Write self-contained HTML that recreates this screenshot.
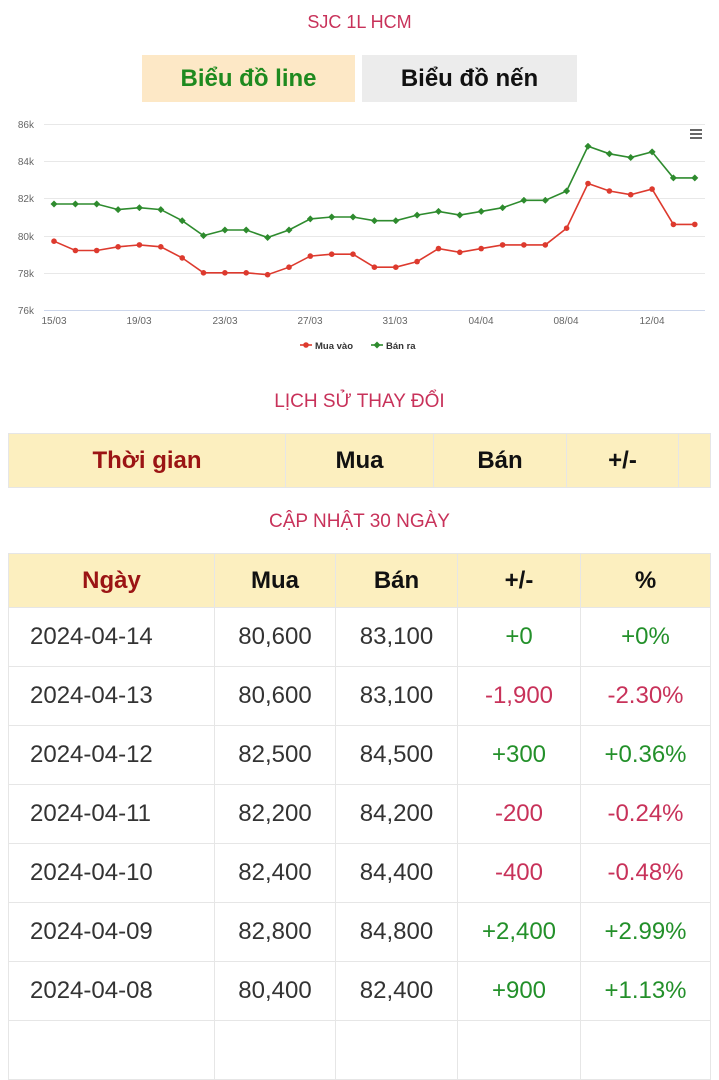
<!DOCTYPE html>
<html><head><meta charset="utf-8"><style>
body{margin:0;width:719px;height:1024px;overflow:hidden;background:#fff;font-family:"Liberation Sans",sans-serif;position:relative}
.a{position:absolute}
.t{color:#c8325a;font-size:18px;text-align:center;width:719px;left:0}
.btn{position:absolute;top:55px;height:47px;line-height:47px;text-align:center;font-weight:bold;font-size:24px}
table{position:absolute;left:8px;width:703px;border-collapse:collapse;table-layout:fixed}
td{border:1px solid #e6e6e6;text-align:center;padding:0}
.h td{background:#fcefbf;font-weight:bold;font-size:24px;color:#111}
.h td.r{color:#9b1414}
.d td{height:58px;font-size:24px;color:#333}
.d td:first-child{text-align:left;padding-left:21px}
.d td.g{color:#23902a}.d td.n{color:#c8325a}
</style></head><body>
<div class="a t" style="top:12px">SJC 1L HCM</div>
<div class="btn" style="left:142px;width:213px;background:#fde8c6;color:#1f8a1f">Biểu đồ line</div>
<div class="btn" style="left:362px;width:215px;background:#ececec;color:#111">Biểu đồ nến</div>
<svg class="a" style="left:0;top:0" width="719" height="360" font-family="Liberation Sans" font-size="10" fill="#666">
<defs>
<marker id="c" markerWidth="6" markerHeight="6" refX="3" refY="3" markerUnits="userSpaceOnUse"><circle cx="3" cy="3" r="2.8" fill="#dd3a2e"/></marker>
<marker id="s" markerWidth="7" markerHeight="7" refX="3.5" refY="3.5" markerUnits="userSpaceOnUse"><path d="M3.5 0L7 3.5 3.5 7 0 3.5Z" fill="#2e8b2e"/></marker>
</defs>
<g stroke="#e8e8e8" stroke-width="1">
<line x1="44" x2="705" y1="124.5" y2="124.5"/><line x1="44" x2="705" y1="161.5" y2="161.5"/><line x1="44" x2="705" y1="198.5" y2="198.5"/><line x1="44" x2="705" y1="236.5" y2="236.5"/><line x1="44" x2="705" y1="273.5" y2="273.5"/><line x1="44" x2="705" y1="310.5" y2="310.5" stroke="#ccd6eb"/>
</g>
<g text-anchor="end"><text x="34" y="128">86k</text><text x="34" y="165">84k</text><text x="34" y="202">82k</text><text x="34" y="240">80k</text><text x="34" y="277">78k</text><text x="34" y="314">76k</text></g>
<g text-anchor="middle"><text x="54" y="324">15/03</text><text x="139" y="324">19/03</text><text x="225" y="324">23/03</text><text x="310" y="324">27/03</text><text x="395" y="324">31/03</text><text x="481" y="324">04/04</text><text x="566" y="324">08/04</text><text x="652" y="324">12/04</text></g>
<polyline fill="none" stroke="#2e8b2e" stroke-width="1.6" marker-start="url(#s)" marker-mid="url(#s)" marker-end="url(#s)" points="54,204 75.4,204 96.7,204 118.1,209.6 139.4,207.7 160.8,209.6 182.2,220.7 203.5,235.6 224.9,230 246.2,230 267.6,237.5 289,230 310.3,218.9 331.7,217 353,217 374.4,220.7 395.8,220.7 417.1,215.1 438.5,211.4 459.8,215.1 481.2,211.4 502.6,207.7 523.9,200.3 545.3,200.3 566.6,191 588,146.3 609.4,153.8 630.7,157.5 652.1,151.9 673.4,177.9 694.8,177.9"/>
<polyline fill="none" stroke="#dd3a2e" stroke-width="1.6" marker-start="url(#c)" marker-mid="url(#c)" marker-end="url(#c)" points="54,241.2 75.4,250.5 96.7,250.5 118.1,246.8 139.4,244.9 160.8,246.8 182.2,257.9 203.5,272.8 224.9,272.8 246.2,272.8 267.6,274.7 289,267.2 310.3,256.1 331.7,254.2 353,254.2 374.4,267.2 395.8,267.2 417.1,261.6 438.5,248.6 459.8,252.3 481.2,248.6 502.6,244.9 523.9,244.9 545.3,244.9 566.6,228.2 588,183.5 609.4,191 630.7,194.7 652.1,189.1 673.4,224.4 694.8,224.4"/>
<g fill="#666"><rect x="690" y="129" width="12" height="2"/><rect x="690" y="133" width="12" height="2"/><rect x="690" y="137" width="12" height="2"/></g>
<line x1="300" x2="312" y1="345" y2="345" stroke="#dd3a2e" stroke-width="1.6"/><circle cx="306" cy="345" r="2.8" fill="#dd3a2e"/>
<text x="315" y="349" fill="#333" font-weight="bold" font-size="9.5">Mua vào</text>
<line x1="371" x2="383" y1="345" y2="345" stroke="#2e8b2e" stroke-width="1.6"/><path d="M377 341.5L380.5 345 377 348.5 373.5 345Z" fill="#2e8b2e"/>
<text x="386" y="349" fill="#333" font-weight="bold" font-size="9.5">Bán ra</text>
</svg>
<div class="a t" style="top:391px;font-size:19px">LỊCH SỬ THAY ĐỔI</div>
<table style="top:433px"><colgroup><col style="width:277px"><col style="width:148px"><col style="width:133px"><col style="width:112px"><col></colgroup>
<tr class="h"><td class="r" style="height:53px">Thời gian</td><td>Mua</td><td>Bán</td><td>+/-</td><td></td></tr></table>
<div class="a t" style="top:511px;font-size:19px">CẬP NHẬT 30 NGÀY</div>
<table style="top:553px"><colgroup><col style="width:206px"><col style="width:121px"><col style="width:122px"><col style="width:123px"><col></colgroup>
<tr class="h"><td class="r" style="height:53px">Ngày</td><td>Mua</td><td>Bán</td><td>+/-</td><td>%</td></tr>
<tr class="d"><td>2024-04-14</td><td>80,600</td><td>83,100</td><td class="g">+0</td><td class="g">+0%</td></tr>
<tr class="d"><td>2024-04-13</td><td>80,600</td><td>83,100</td><td class="n">-1,900</td><td class="n">-2.30%</td></tr>
<tr class="d"><td>2024-04-12</td><td>82,500</td><td>84,500</td><td class="g">+300</td><td class="g">+0.36%</td></tr>
<tr class="d"><td>2024-04-11</td><td>82,200</td><td>84,200</td><td class="n">-200</td><td class="n">-0.24%</td></tr>
<tr class="d"><td>2024-04-10</td><td>82,400</td><td>84,400</td><td class="n">-400</td><td class="n">-0.48%</td></tr>
<tr class="d"><td>2024-04-09</td><td>82,800</td><td>84,800</td><td class="g">+2,400</td><td class="g">+2.99%</td></tr>
<tr class="d"><td>2024-04-08</td><td>80,400</td><td>82,400</td><td class="g">+900</td><td class="g">+1.13%</td></tr>
<tr class="d"><td></td><td></td><td></td><td></td><td></td></tr>
</table>
</body></html>
